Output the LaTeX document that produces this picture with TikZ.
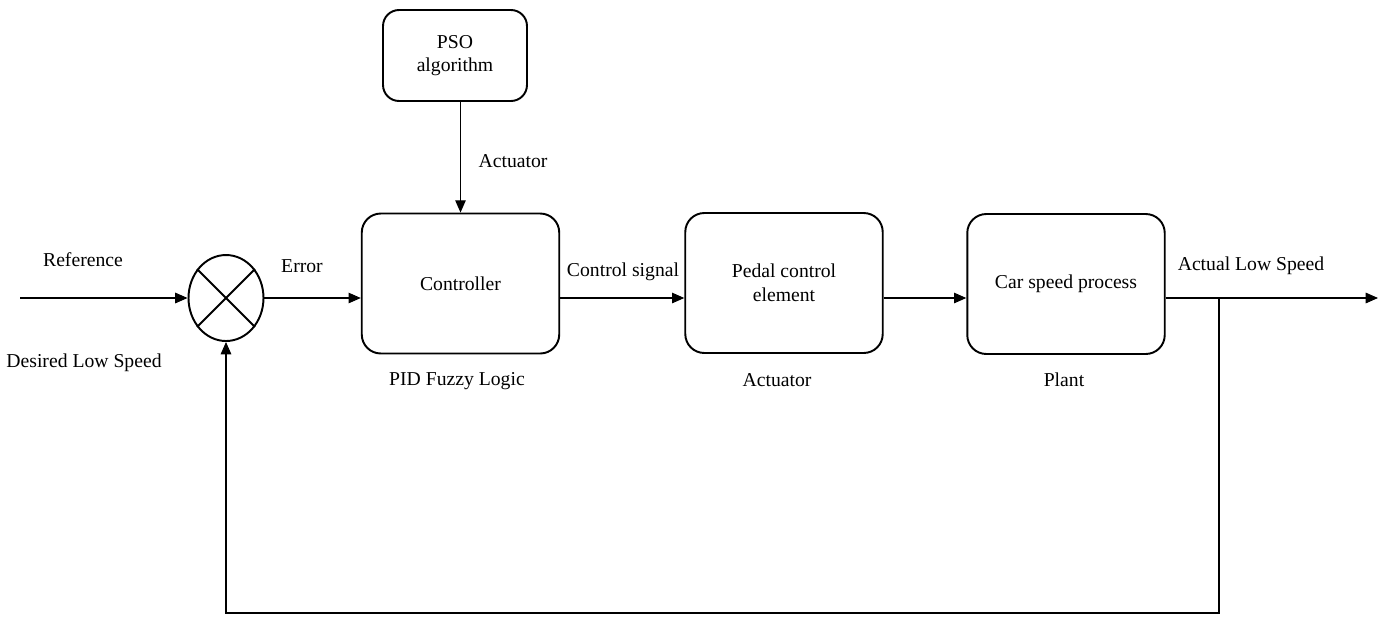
\documentclass[tikz,border=0pt]{standalone}
\usepackage{fontspec}
\setmainfont{Liberation Serif}
\usetikzlibrary{arrows.meta, shapes.geometric, positioning}

\begin{document}
\begin{tikzpicture}
[x=0.02cm, y=-0.02cm,
every node/.style={font=\fontsize{11.2}{13.5}\selectfont},
block/.style ={rectangle, draw, line width=1.1pt, rounded corners=0.38cm, align=center, minimum width=3.95cm, minimum height=2.8cm, inner sep=2pt},
block_small/.style ={block, rounded corners=0.32cm, minimum width=2.88cm, minimum height=1.82cm},
sum/.style ={ellipse, draw, line width=1.1pt, minimum width=1.5cm, minimum height=1.72cm, inner sep=0},
line_inner/.style ={draw, line width=0.6pt, -{Triangle[length=7pt,width=6pt]}},
label_text/.style ={inner sep=1pt}
]
\useasboundingbox (0,0) rectangle (1388,623);

% blocks
\node [sum] (sum) at (226,298) {};
\node [block] (ctrl) at (460.5,283.5) {Controller};
\node [block] (pedal) at (784,283) {Pedal control\\element};
\node [block] (plant) at (1066,284) {Car speed process};
\node [block_small] (pso) at (455,55.5) {PSO\\algorithm};

\draw[line width=1.1pt] (sum.45) -- (sum.225) (sum.135) -- (sum.315);

% free ends
\coordinate (in) at (20,298);
\coordinate (out) at (1378,298);
\coordinate (tap) at (1219,298);
\coordinate (fb) at (1219,613);

% labels
\node [label_text] (ref) at (83,260) {Reference};
\node [label_text] (desired) at (84,363) {Desired Low Speed};
\node [label_text] (err) at (302,266) {Error};
\node [label_text] (act_pso) at (513,161) {Actuator};
\node [label_text] (csig) at (623,272) {Control signal};
\node [label_text] (pid) at (457,381) {PID Fuzzy Logic};
\node [label_text] (act) at (777,380) {Actuator};
\node [label_text] (plant_lbl) at (1064,380) {Plant};
\node [label_text] (actual) at (1251,266) {Actual Low Speed};

%%Pfeile%%
\draw[line_inner] (in) -- (sum.west);
\draw[line_inner] (sum.east) -- (sum -| ctrl.west);
\draw[line_inner] (ctrl.east |- sum) -- (sum -| pedal.west);
\draw[line_inner] (pedal.east |- sum) -- (sum -| plant.west);
\draw[line_inner] (plant.east |- sum) -- (out);
\draw[line_inner] (tap) -- (fb) -| (sum.south);
\draw[line_inner] (ctrl.north |- pso.south) -- (ctrl.north);

\end{tikzpicture}
\end{document}
